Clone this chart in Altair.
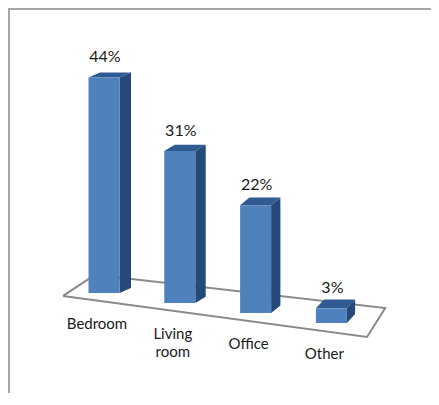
import altair as alt
import pandas as pd

# ---- data ----
categories = ["Bedroom", "Living room", "Office", "Other"]
values = [44, 31, 22, 3]
value_labels = ["44%", "31%", "22%", "3%"]

# ---- layout / style constants (pseudo 3-D perspective) ----
W, H = 423, 385
PX_X = 75.8          # px per category step
PX_Y = 4.9           # px per percent
X_ORIGIN = 96        # svg px of first category centre
Y_ORIGIN = 285       # svg px of 0 % for first bar
TILT = 10 / PX_Y     # floor drop per category (in % units)
HALF = 15.5 / PX_X   # half width of front face

x_dom = [-X_ORIGIN / PX_X, (W - X_ORIGIN) / PX_X]
y_dom = [(Y_ORIGIN - H) / PX_Y, Y_ORIGIN / PX_Y]

FRONT = "#4F81BD"
SIDE = "#24497A"
TOP = "#2F5A92"
FONT = "Lato"

front_rows, side_rows, top_rows, lab_rows = [], [], [], []
for i, (c, v, t) in enumerate(zip(categories, values, value_labels)):
    base = -TILT * i
    top = base + v
    xl, xr = i - HALF, i + HALF
    ddx = (11.5 - 1.1 * i) / PX_X
    ddy = (5 + 1.3 * i) / PX_Y
    front_rows.append(dict(cat=c, x=xl, x2=xr, y=base, y2=top))
    side_rows += [
        dict(cat=c, x=xr, y=top, y2=base),
        dict(cat=c, x=xr + ddx, y=top + ddy, y2=base + ddy),
    ]
    top_rows += [
        dict(cat=c, x=xl, y=top, y2=top),
        dict(cat=c, x=xl + ddx, y=top, y2=top + ddy),
        dict(cat=c, x=xr, y=top, y2=top + ddy),
        dict(cat=c, x=xr + ddx, y=top + ddy, y2=top + ddy),
    ]
    lab_rows.append(dict(cat=c, label=t, x=i, top=top, base=base,
                         catlab=c.replace(" ", "\n")))

# floor plane of the 3-D plot (front-left, back-left, back-right, front-right)
n = len(categories)
fl_xl, fl_xr = -0.54, (n - 1) + 0.47
floor_rows = [
    dict(o=0, x=fl_xl, y=-0.6),
    dict(o=1, x=fl_xl + 0.42, y=3.7),
    dict(o=2, x=fl_xr + 0.24, y=-3.06),
    dict(o=3, x=fl_xr, y=-8.98),
    dict(o=4, x=fl_xl, y=-0.6),
]

xs = alt.Scale(domain=x_dom, nice=False, zero=False)
ys = alt.Scale(domain=y_dom, nice=False, zero=False)
X = lambda f="x": alt.X(f"{f}:Q", scale=xs, axis=None)
Y = lambda f="y": alt.Y(f"{f}:Q", scale=ys, axis=None)

floor = alt.Chart(pd.DataFrame(floor_rows)).mark_line(
    color="#8a8a8a", strokeWidth=2
).encode(x=X(), y=Y(), order="o:Q")

front = alt.Chart(pd.DataFrame(front_rows)).mark_rect(color=FRONT).encode(
    x=X(), x2="x2:Q", y=Y(), y2="y2:Q"
)
side = alt.Chart(pd.DataFrame(side_rows)).mark_area(color=SIDE).encode(
    x=X(), y=Y(), y2="y2:Q", detail="cat:N"
)
topf = alt.Chart(pd.DataFrame(top_rows)).mark_area(color=TOP).encode(
    x=X(), y=Y(), y2="y2:Q", detail="cat:N"
)

labs = pd.DataFrame(lab_rows)
val_text = alt.Chart(labs).mark_text(
    font=FONT, fontSize=16, color="#1a1a1a", baseline="middle", dy=-20, dx=1
).encode(x=X(), y=Y("top"), text="label:N")

cat_text = alt.Chart(labs).mark_text(
    font=FONT, fontSize=15, color="#1a1a1a", baseline="top", dy=24, dx=-7,
    lineBreak="\n", lineHeight=18
).encode(x=X(), y=Y("base"), text="catlab:N")

one = pd.DataFrame({"a": [0]})
frame_l = alt.Chart(one).mark_rule(color="#a6a6a6", strokeWidth=2).encode(
    x=alt.value(1), y=alt.value(0), y2=alt.value(H)
)
frame_t = alt.Chart(one).mark_rule(color="#a6a6a6", strokeWidth=2).encode(
    x=alt.value(0), x2=alt.value(W), y=alt.value(1)
)

chart = alt.layer(
    frame_l, frame_t, floor, side, topf, front, val_text, cat_text
).properties(
    width=W, height=H, padding=0, autosize=alt.AutoSizeParams(type="none")
).configure_view(stroke=None).configure(background="white")

chart.save("out.html", embed_options={"renderer": "svg", "actions": False})
